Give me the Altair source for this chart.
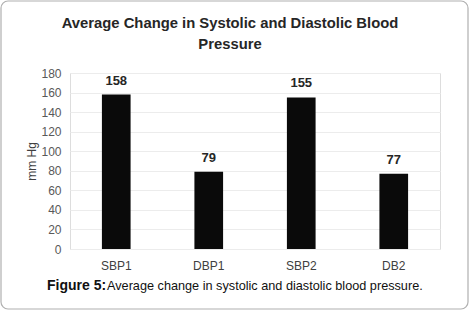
import altair as alt
import pandas as pd

categories = ["SBP1", "DBP1", "SBP2", "DB2"]
values = [158, 79, 155, 77]
title_lines = ["Average Change in Systolic and Diastolic Blood", "Pressure"]
caption_bold = ["Figure 5:"]
caption_rest = ["Average change in systolic and diastolic blood pressure."]
y_ticks = [0, 20, 40, 60, 80, 100, 120, 140, 160, 180]

df = pd.DataFrame({"cat": categories, "val": values})
FONT = "Liberation Sans, Arial, sans-serif"

x_enc = alt.X("cat:N", sort=categories, title=None,
              scale=alt.Scale(paddingInner=0.69, paddingOuter=0.345),
              axis=alt.Axis(labelAngle=0, labelFont=FONT, labelFontSize=12,
                            labelColor="#404040", ticks=False, domain=False,
                            labelPadding=11))
y_enc = alt.Y("val:Q", title="mm Hg",
              scale=alt.Scale(domain=[0, 180], nice=False),
              axis=alt.Axis(values=y_ticks, labelFont=FONT, labelFontSize=12,
                            labelColor="#595959", ticks=False, domain=False,
                            labelOverlap=False, gridColor="#ececec", labelPadding=9,
                            titleFont=FONT, titleFontSize=12, titleFontWeight="normal",
                            titleColor="#404040", titlePadding=2))

bars = alt.Chart(df).mark_bar(color="#0a0a0a").encode(x=x_enc, y=y_enc)
labels = alt.Chart(df).mark_text(dy=-14, font=FONT, fontSize=13, fontWeight="bold",
                                 color="#262626").encode(
    x=x_enc, y=y_enc, text="val:Q")

title1 = alt.Chart(pd.DataFrame({"t": title_lines[:1]})).mark_text(
    align="center", baseline="middle", font=FONT, fontSize=14.8, fontWeight="bold",
    color="#262626").encode(x=alt.value(160), y=alt.value(-49), text="t:N")
title2 = alt.Chart(pd.DataFrame({"t": title_lines[1:]})).mark_text(
    align="center", baseline="middle", font=FONT, fontSize=14.8, fontWeight="bold",
    color="#262626").encode(x=alt.value(160), y=alt.value(-28), text="t:N")

cap1 = alt.Chart(pd.DataFrame({"t": caption_bold})).mark_text(
    align="left", baseline="middle", font=FONT, fontSize=14, fontWeight="bold",
    color="#111111").encode(x=alt.value(-23), y=alt.value(213), text="t:N")
cap2 = alt.Chart(pd.DataFrame({"t": caption_rest})).mark_text(
    align="left", baseline="middle", font=FONT, fontSize=12.7,
    color="#111111").encode(x=alt.value(37), y=alt.value(213), text="t:N")
border = alt.Chart(pd.DataFrame({"t": [0]})).mark_rect(
    fill=None, stroke="#b0b0b0", strokeWidth=1.2, cornerRadius=7).encode(
    x=alt.value(-69), x2=alt.value(398), y=alt.value(-72), y2=alt.value(236))

chart = alt.layer(border, bars, labels, title1, title2, cap1, cap2).properties(
    width=370, height=176,
    autosize=alt.AutoSizeParams(type="none"),
    padding={"left": 70, "top": 73, "right": 33, "bottom": 63},
).configure_view(stroke=None).configure(background="white")

chart.save("out.html", embed_options={"renderer": "svg", "actions": False})
